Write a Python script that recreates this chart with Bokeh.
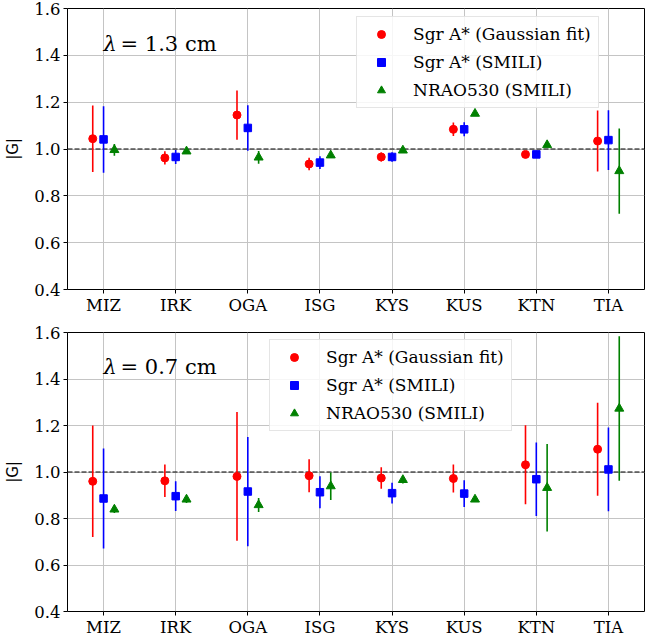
from bokeh.plotting import figure
from bokeh.layouts import column
from bokeh.models import (Range1d, FixedTicker, Span, Label, Legend, LegendItem,
                          ColumnDataSource, PrintfTickFormatter)
from bokeh.embed import file_html
from bokeh.resources import INLINE

stations = ["MIZ", "IRK", "OGA", "ISG", "KYS", "KUS", "KTN", "TIA"]
y_ticks = [0.4, 0.6, 0.8, 1.0, 1.2, 1.4, 1.6]
ref_level = 1.0

# lambda = 1.3 cm
g13_gauss = [1.044, 0.962, 1.145, 0.936, 0.966, 1.084, 0.977, 1.034]
g13_gauss_err = [0.142, 0.028, 0.105, 0.027, 0.019, 0.029, 0.010, 0.130]
g13_smili = [1.041, 0.966, 1.090, 0.942, 0.966, 1.084, 0.977, 1.038]
g13_smili_err = [0.142, 0.030, 0.097, 0.027, 0.020, 0.030, 0.010, 0.128]
g13_nrao = [0.996, 0.990, 0.964, 0.973, 0.994, 1.151, 1.017, 0.906]
g13_nrao_err = [0.025, 0.010, 0.027, 0.010, 0.010, 0.010, 0.010, 0.182]

# lambda = 0.7 cm
g07_gauss = [0.960, 0.962, 0.981, 0.984, 0.974, 0.972, 1.031, 1.098]
g07_gauss_err = [0.240, 0.070, 0.277, 0.071, 0.046, 0.060, 0.170, 0.200]
g07_smili = [0.886, 0.896, 0.916, 0.913, 0.909, 0.907, 0.969, 1.011]
g07_smili_err = [0.215, 0.064, 0.235, 0.069, 0.045, 0.057, 0.158, 0.180]
g07_nrao = [0.839, 0.882, 0.858, 0.939, 0.966, 0.882, 0.932, 1.273]
g07_nrao_err = [0.015, 0.015, 0.030, 0.059, 0.015, 0.010, 0.188, 0.311]

labels = ["Sgr A* (Gaussian fit)", "Sgr A* (SMILI)", "NRAO530 (SMILI)"]
SERIF = "DejaVu Serif"


def make_panel(wl, series, legend_loc, top_border, bottom_border, frame_h):
    p = figure(width=652, height=top_border + frame_h + bottom_border,
               output_backend="svg", toolbar_location=None,
               x_range=Range1d(-0.5, len(stations) - 0.5),
               y_range=Range1d(y_ticks[0], y_ticks[-1]),
               min_border_left=67, min_border_right=8,
               min_border_top=top_border, min_border_bottom=bottom_border)
    p.outline_line_color = "black"
    p.outline_line_width = 1
    p.background_fill_color = "white"
    p.border_fill_color = "white"

    p.xaxis.ticker = FixedTicker(ticks=list(range(len(stations))))
    p.xaxis.major_label_overrides = {i: s for i, s in enumerate(stations)}
    p.yaxis.ticker = FixedTicker(ticks=y_ticks)
    p.yaxis.formatter = PrintfTickFormatter(format="%.1f")
    for ax in (p.xaxis, p.yaxis):
        ax.major_label_text_font = SERIF
        ax.major_label_text_font_size = "16.5px"
        ax.major_label_text_color = "black"
        ax.major_tick_out = 4
        ax.major_tick_in = 0
        ax.minor_tick_out = 0
        ax.minor_tick_in = 0
        ax.axis_line_color = None
        ax.major_tick_line_color = "black"
        ax.major_label_standoff = 3
    p.xaxis.major_label_standoff = 2
    p.yaxis.axis_label = "|G|"
    p.yaxis.axis_label_text_font = "DejaVu Sans"
    p.yaxis.axis_label_text_font_style = "normal"
    p.yaxis.axis_label_text_font_size = "15px"
    p.yaxis.axis_label_text_color = "black"
    p.yaxis.axis_label_standoff = 9
    p.grid.grid_line_color = "#c4c4c4"
    p.grid.grid_line_width = 1

    span = Span(location=ref_level, dimension="width", line_color="black",
                line_width=1.2, line_dash="5 2", level="underlay")
    p.add_layout(span)

    colors = ["#ff0000", "#0000ff", "#008000"]
    markers = ["circle", "square", "triangle"]
    sizes = [8, 7.5, 9]
    offsets = [-0.15, 0.0, 0.15]
    items = []
    for (vals, errs), c, m, s, off, lab in zip(series, colors, markers, sizes, offsets, labels):
        xs = [i + off for i in range(len(stations))]
        src = ColumnDataSource(dict(x=xs, y=vals,
                                    lo=[v - e for v, e in zip(vals, errs)],
                                    hi=[v + e for v, e in zip(vals, errs)]))
        p.segment(x0="x", y0="lo", x1="x", y1="hi", source=src,
                  line_color=c, line_width=1.6)
        r = p.scatter(x="x", y="y", source=src, marker=m, size=s,
                      fill_color=c, line_color=c)
        items.append(LegendItem(label=lab, renderers=[r]))

    leg = Legend(items=items, location=legend_loc,
                 label_text_font=SERIF, label_text_font_size="17px",
                 label_text_color="black",
                 label_height=20, glyph_height=20, glyph_width=34,
                 spacing=8, padding=7, margin=0, label_standoff=15,
                 border_line_color="#cccccc", border_line_width=1,
                 background_fill_alpha=0.85)
    p.add_layout(leg)

    lam = Label(x=0.0, y=1.45, text="λ", text_font=SERIF,
                text_font_style="italic", text_font_size="21px",
                text_baseline="middle", text_color="black")
    rest = Label(x=0.0, y=1.45, x_offset=17, text="= " + wl + " cm", text_font=SERIF,
                 text_font_size="21px", text_baseline="middle", text_color="black")
    p.add_layout(lam)
    p.add_layout(rest)
    return p


frame_h = 281
p1 = make_panel("1.3", [(g13_gauss, g13_gauss_err), (g13_smili, g13_smili_err),
                        (g13_nrao, g13_nrao_err)], (289, 181), 8, 35, frame_h)
p2 = make_panel("0.7", [(g07_gauss, g07_gauss_err), (g07_smili, g07_smili_err),
                        (g07_nrao, g07_nrao_err)], (202, 180), 8, 26, frame_h)

layout = column(p1, p2, spacing=0)
open("out.html", "w").write(file_html(layout, INLINE))
